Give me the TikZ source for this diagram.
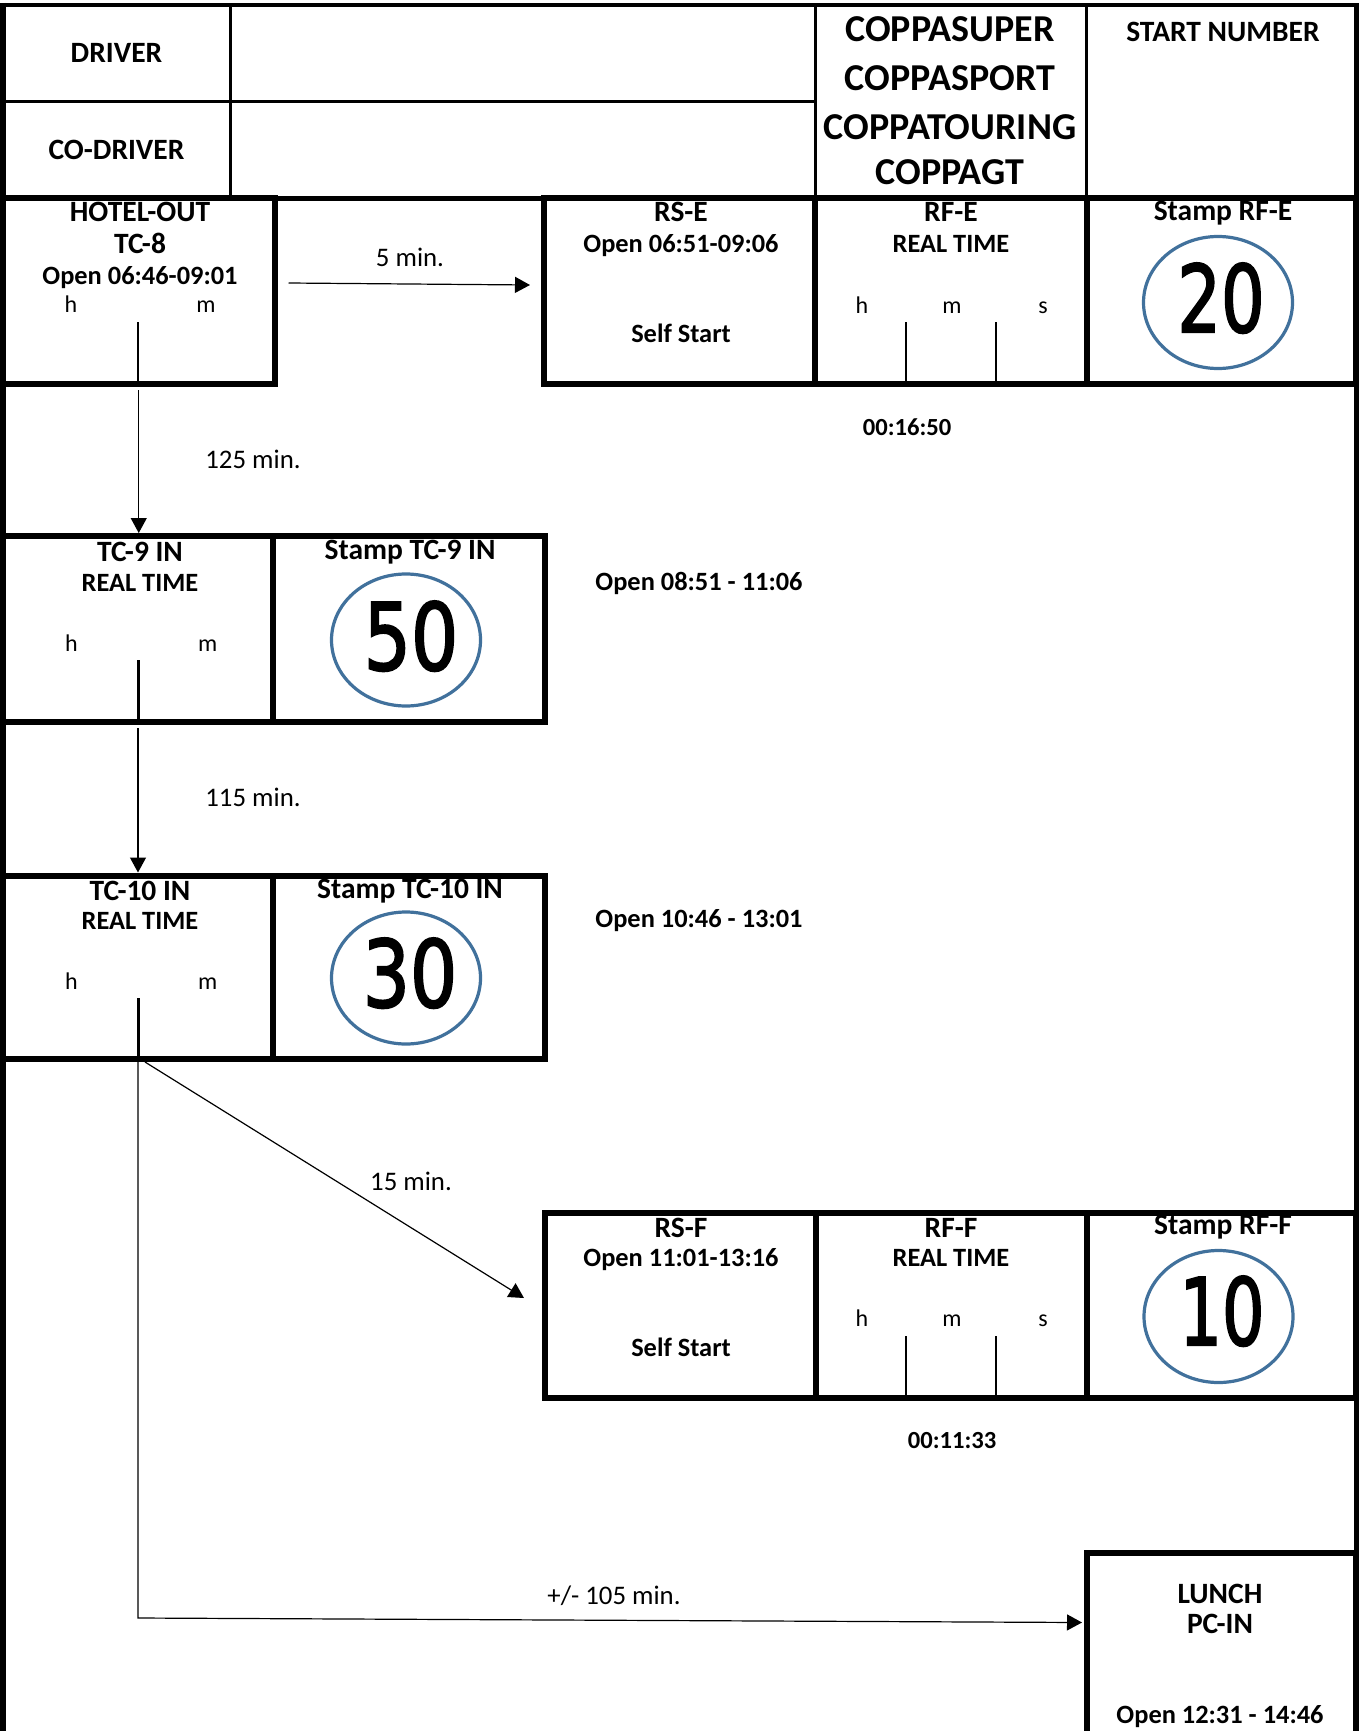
\documentclass[tikz,border=0pt]{standalone}
\usepackage{fontspec}
\usepackage{graphicx}
\setmainfont{Carlito}
\newfontfamily\dinfont[FakeBold=2.2]{DejaVu Sans}
\usetikzlibrary{arrows.meta,shapes.geometric}
\definecolor{stampblue}{RGB}{65,113,156}
\tikzset{
  cell/.style={draw, line width=6pt, rectangle, inner sep=0pt, outer sep=0pt, anchor=north west},
  hcell/.style={draw, line width=3pt, rectangle, inner sep=0pt, outer sep=0pt, anchor=north west},
  ttl/.style={anchor=base, inner sep=0pt, font=\bfseries\fontsize{29.5}{34}\selectfont},
  lbl/.style={anchor=base, inner sep=0pt, font=\bfseries\fontsize{26.4}{30}\selectfont},
  big/.style={anchor=base, inner sep=0pt, font=\bfseries\fontsize{38}{44}\selectfont},
  unitlbl/.style={anchor=base, inner sep=0pt, font=\fontsize{24}{28}\selectfont},
  minlbl/.style={anchor=base, inner sep=0pt, font=\fontsize{26.8}{30}\selectfont},
  durlbl/.style={anchor=base, inner sep=0pt, font=\bfseries\fontsize{24.6}{28}\selectfont},
  sepline/.style={line width=2.5pt},
  conn/.style={line width=1.2pt, -{Triangle[length=15pt,width=16pt]}},
  stamp/.style={draw=stampblue, line width=3.2pt, ellipse, minimum width=149pt, minimum height=132pt, inner sep=0pt},
  num/.style={anchor=base, inner sep=0pt, font=\dinfont\fontsize{93}{93}\selectfont}
}
\begin{document}
\begin{tikzpicture}[x=1pt,y=-1pt]
\useasboundingbox (0,0) rectangle (1359,1731);
\fill[white] (0,0) rectangle (1359,1731);
\clip (0,0) rectangle (1359,1731);

% ---------- header ----------
\node[hcell, minimum width=227pt, minimum height=97pt] (hA) at (3,5) {};
\node[hcell, minimum width=585pt, minimum height=97pt] (hB) at (230,5) {};
\node[hcell, minimum width=227pt, minimum height=96.5pt] (hC) at (3,102) {};
\node[hcell, minimum width=585pt, minimum height=96.5pt] (hD) at (230,102) {};
\node[hcell, minimum width=271.5pt, minimum height=193.5pt] (hE) at (815,5) {};
\node[hcell, minimum width=269.5pt, minimum height=193.5pt] (hF) at (1086.5,5) {};
\draw[line width=4.5pt] (hA.north west) -- (hF.north east);
\draw[line width=5.5pt] (hC.south west) -- (hF.south east);

% page borders
\draw[line width=6pt] (3,3) -- (3,1740);
\draw[line width=5pt] (1356.5,3) -- (1356.5,1740);

\node[ttl] (tDriver) at (116.5,62.5) {DRIVER};
\node[ttl] (tCoDriver) at (116.5,160) {CO-DRIVER};
\node[big] (tC1) at (950,41.7) {COPPASUPER};
\node[big] (tC2) at (950,90.7) {COPPASPORT};
\node[big] (tC3) at (950,139.3) {COPPATOURING};
\node[big] (tC4) at (950,185) {COPPAGT};
\node[ttl] (tStartNo) at (1223,42) {START NUMBER};

% ---------- row 2 ----------
\node[cell, minimum width=271.5pt, minimum height=185pt] (hotel) at (3,198.5) {};
\node[cell, minimum width=271pt, minimum height=185pt] (rse) at (544,198.5) {};
\node[cell, minimum width=271.5pt, minimum height=185pt] (rfe) at (815,198.5) {};
\node[cell, minimum width=269.5pt, minimum height=185pt] (stpe) at (1086.5,198.5) {};

\node[ttl] (tHotel1) at (140,222) {HOTEL-OUT};
\node[ttl] (tHotel2) at (140,253) {TC-8};
\node[lbl] (tHotel3) at (140,284) {Open 06:46-09:01};
\node[unitlbl] (tHotelH) at (71,312) {h};
\node[unitlbl] (tHotelM) at (206,312) {m};
\draw[sepline] (138,322) -- (hotel.south -| 138,0);

\node[ttl] (tRSE1) at (681,222) {RS-E};
\node[lbl] (tRSE2) at (681,252) {Open 06:51-09:06};
\node[lbl] (tRSE3) at (681,342) {Self Start};

\node[ttl] (tRFE1) at (951,222) {RF-E};
\node[lbl] (tRFE2) at (951,252) {REAL TIME};
\node[unitlbl] (tRFEh) at (862,313) {h};
\node[unitlbl] (tRFEm) at (952,313) {m};
\node[unitlbl] (tRFEs) at (1043,313) {s};
\draw[sepline] (906,322) -- (906,383.5);
\draw[sepline] (996,322) -- (996,383.5);

\node[ttl] (tStpE) at (1223,220) {Stamp RF-E};
\node[stamp] (ovE) at (1218,302.5) {};
\node[num] (numE) at (1221,332) {\scalebox{0.74}[1]{20}};

\node[durlbl] (tDurE) at (907,435) {00:16:50};

% ---------- TC-9 ----------
\node[cell, minimum width=270pt, minimum height=185.5pt] (tcnine) at (3,536) {};
\node[cell, minimum width=272pt, minimum height=185.5pt] (stpnine) at (273,536) {};
\node[ttl] (tTC9a) at (140,561.5) {TC-9 IN};
\node[lbl] (tTC9b) at (140,591) {REAL TIME};
\node[unitlbl] (tTC9h) at (71.4,651) {h};
\node[unitlbl] (tTC9m) at (207.6,651) {m};
\draw[sepline] (138.4,660) -- (138.4,721.5);
\node[ttl] (tStp9) at (410,559) {Stamp TC-9 IN};
\node[stamp] (ov9) at (406,640) {};
\node[num] (num9) at (411,670) {\scalebox{0.8}[1]{50}};
\node[lbl] (tOpen9) at (699,590) {Open 08:51 - 11:06};

% ---------- TC-10 ----------
\node[cell, minimum width=270pt, minimum height=183pt] (tcten) at (3,875.5) {};
\node[cell, minimum width=272pt, minimum height=183pt] (stpten) at (273,875.5) {};
\node[ttl] (tTC10a) at (140,900.5) {TC-10 IN};
\node[lbl] (tTC10b) at (140,929) {REAL TIME};
\node[unitlbl] (tTC10h) at (71.4,989) {h};
\node[unitlbl] (tTC10m) at (207.6,989) {m};
\draw[sepline] (138.4,998) -- (138.4,1058.5);
\node[ttl] (tStp10) at (410,898.5) {Stamp TC-10 IN};
\node[stamp] (ov10) at (406,978) {};
\node[num] (num10) at (410,1007) {\scalebox{0.8}[1]{30}};
\node[lbl] (tOpen10) at (699,927) {Open 10:46 - 13:01};

% ---------- RS-F row ----------
\node[cell, minimum width=270.5pt, minimum height=185pt] (rsf) at (545,1212.5) {};
\node[cell, minimum width=271pt, minimum height=185pt] (rff) at (815.5,1212.5) {};
\node[cell, minimum width=269.5pt, minimum height=185pt] (stpf) at (1086.5,1212.5) {};
\node[ttl] (tRSF1) at (681,1237) {RS-F};
\node[lbl] (tRSF2) at (681,1266.5) {Open 11:01-13:16};
\node[lbl] (tRSF3) at (681,1356.5) {Self Start};
\node[ttl] (tRFF1) at (951,1237) {RF-F};
\node[lbl] (tRFF2) at (951,1266.5) {REAL TIME};
\node[unitlbl] (tRFFh) at (862,1326.5) {h};
\node[unitlbl] (tRFFm) at (952,1326.5) {m};
\node[unitlbl] (tRFFs) at (1043,1326.5) {s};
\draw[sepline] (906,1336) -- (906,1397.5);
\draw[sepline] (996,1336) -- (996,1397.5);
\node[ttl] (tStpF) at (1223,1234) {Stamp RF-F};
\node[stamp] (ovF) at (1218.5,1316.5) {};
\node[num] (numF) at (1222,1345) {\scalebox{0.72}[1]{10}};
\node[durlbl] (tDurF) at (952,1448) {00:11:33};

% ---------- LUNCH ----------
\node[cell, minimum width=269pt, minimum height=300pt] (lunch) at (1087,1552.5) {};
\node[ttl] (tL1) at (1220,1603.5) {LUNCH};
\node[ttl] (tL2) at (1220,1633) {PC-IN};
\node[lbl] (tL3) at (1220,1723) {Open 12:31 - 14:46};

% ---------- connectors ----------
\draw[conn] ([shift={(14,-8)}]hotel.east) -- ([shift={(-14,-6)}]rse.west);
\node[minlbl] (m5) at (410,266.7) {5 min.};

\draw[conn] ([yshift=-6.5pt]hotel.south) -- ([yshift=3pt]hotel.south |- tcnine.north);
\node[minlbl] (m125) at (253,468) {125 min.};

\draw[conn] ([yshift=-6.5pt]tcnine.south) -- ([yshift=3pt]tcnine.south |- tcten.north);
\node[minlbl] (m115) at (253,806) {115 min.};

\draw[conn] ([shift={(7,3.5)}]tcten.south) -- ([shift={(-21,-7)}]rsf.west);
\node[minlbl] (m15) at (411,1190) {15 min.};

\coordinate (bend) at (138,1618);
\draw[conn] (tcten.south) -- (bend) -- ([shift={(-5,70)}]lunch.north west);
\node[minlbl] (m105) at (614,1604) {+/- 105 min.};
\end{tikzpicture}
\end{document}
